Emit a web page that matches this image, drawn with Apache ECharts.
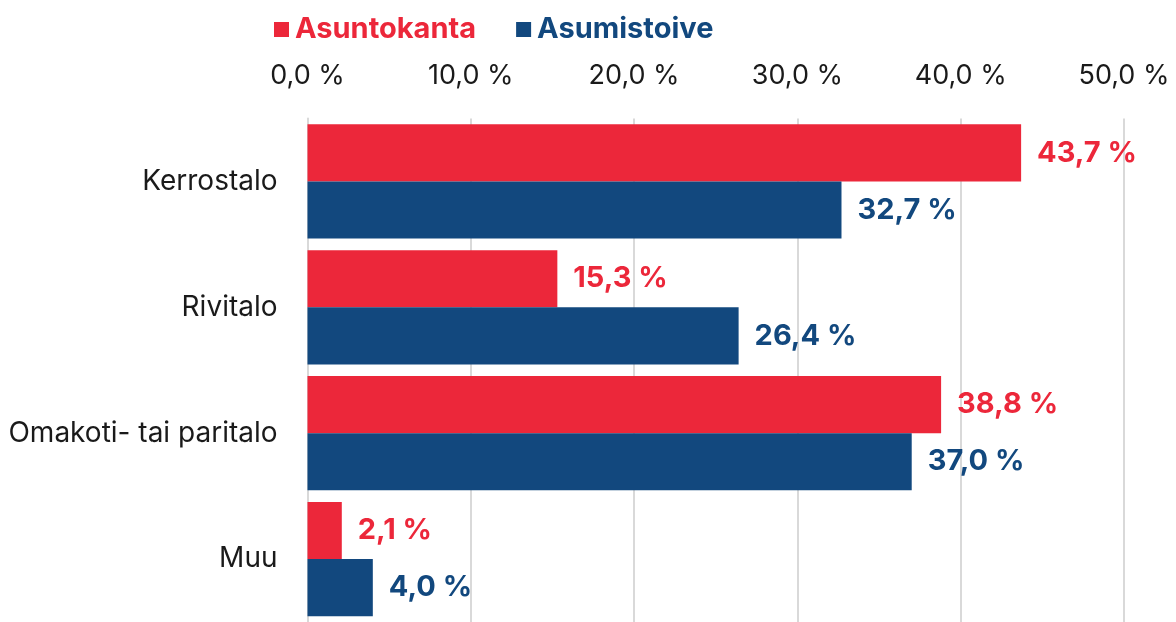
<!DOCTYPE html>
<html>
<head>
<meta charset="utf-8">
<script src="https://cdn.jsdelivr.net/npm/echarts@6/dist/echarts.min.js"></script>
<style>
  html, body { margin: 0; padding: 0; background: #ffffff; }
  #chart { width: 1176px; height: 622px; }
</style>
</head>
<body>
<div id="chart"></div>
<script>
const categories = ['Kerrostalo', 'Rivitalo', 'Omakoti- tai paritalo', 'Muu'];
const asuntokanta = [43.7, 15.3, 38.8, 2.1];
const asumistoive = [32.7, 26.4, 37.0, 4.0];
const seriesNames = ['Asuntokanta', 'Asumistoive'];

const RED = '#ec273a';
const BLUE = '#12487e';
const FONT = 'Inter';

const fmt = (v) => v.toFixed(1).replace('.', ',') + ' %';

const chart = echarts.init(document.getElementById('chart'));

const barLabel = (color) => ({
  show: true,
  position: 'right',
  distance: 16,
  color: color,
  fontSize: 29,
  fontWeight: 'bold',
  fontFamily: FONT,
  formatter: (p) => fmt(p.value)
});

const option = {
  animation: false,
  textStyle: { fontFamily: FONT },
  legend: {
    top: 10,
    left: 269,
    itemWidth: 15,
    itemHeight: 15,
    itemGap: 40,
    icon: 'rect',
    textStyle: {
      fontSize: 29,
      fontWeight: 'bold',
      fontFamily: FONT,
      padding: [0, 0, 0, 1]
    },
    data: [
      { name: seriesNames[0], textStyle: { color: RED } },
      { name: seriesNames[1], textStyle: { color: BLUE } }
    ]
  },
  grid: {
    left: 307.5,
    top: 118.5,
    width: 816.5,
    height: 507
  },
  xAxis: {
    type: 'value',
    position: 'top',
    min: 0,
    max: 50,
    interval: 10,
    axisLine: { show: false },
    axisTick: { show: false },
    axisLabel: {
      margin: 29,
      fontSize: 27,
      color: '#1a1a1a',
      fontFamily: FONT,
      formatter: (v) => fmt(v)
    },
    splitLine: { lineStyle: { color: '#d9d9d9', width: 2 } }
  },
  yAxis: {
    type: 'category',
    inverse: true,
    data: categories,
    axisLine: { show: true, lineStyle: { color: '#d9d9d9', width: 2 } },
    axisTick: { show: false },
    axisLabel: {
      margin: 30,
      fontSize: 28,
      color: '#1a1a1a',
      fontFamily: FONT
    }
  },
  series: [
    {
      name: seriesNames[0],
      type: 'bar',
      data: asuntokanta,
      barGap: '0%',
      barCategoryGap: '9.2%',
      itemStyle: { color: RED },
      label: barLabel(RED)
    },
    {
      name: seriesNames[1],
      type: 'bar',
      data: asumistoive,
      barGap: '0%',
      barCategoryGap: '9.2%',
      itemStyle: { color: BLUE },
      label: barLabel(BLUE)
    }
  ]
};

chart.setOption(option);
</script>
</body>
</html>
